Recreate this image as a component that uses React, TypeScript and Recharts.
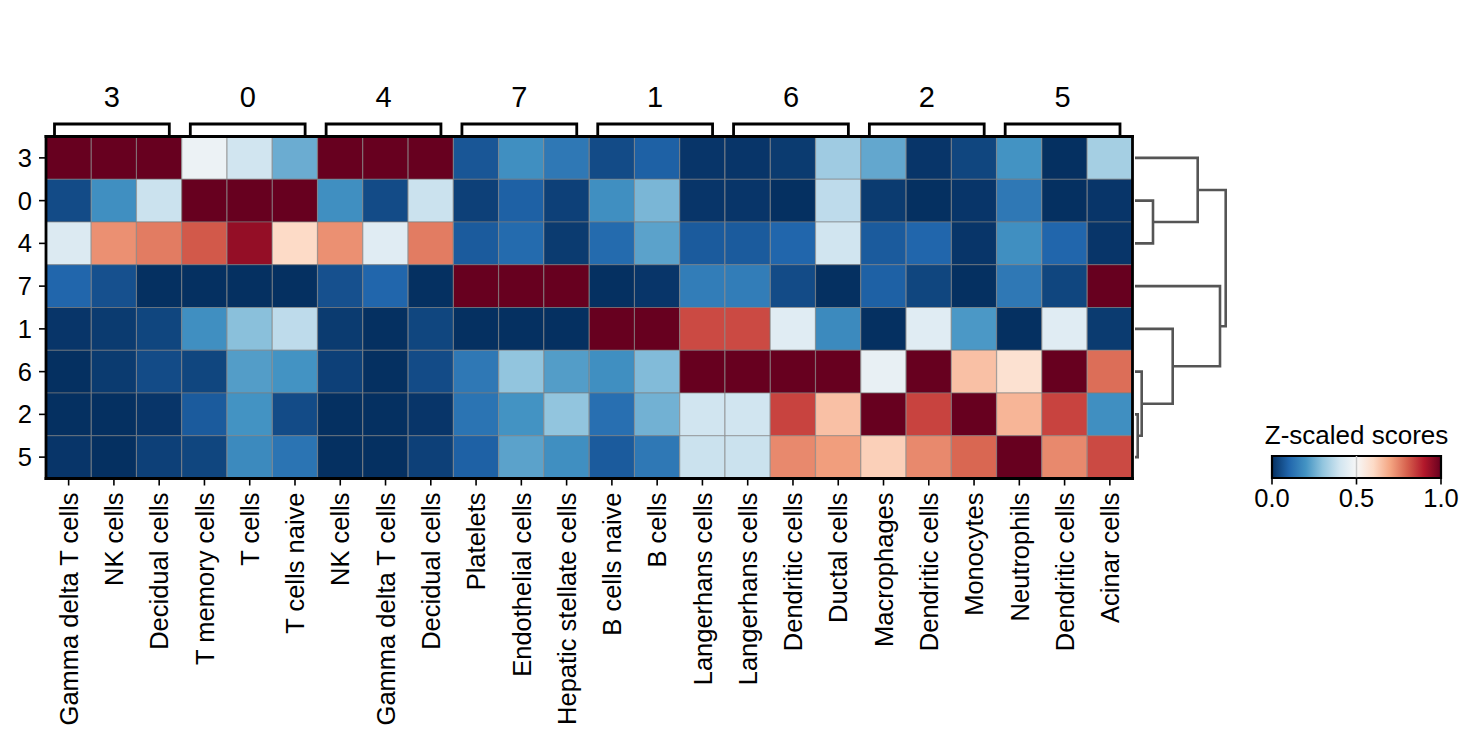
import React from "react"
import {
    Bar,
    BarChart,
    Cell,
    ReferenceLine,
    Scatter,
    ScatterChart,
    XAxis,
    YAxis,
} from "recharts"

const W = 1475
const H = 746
const FONT = '"Liberation Sans", Arial, Helvetica, sans-serif'
const TICK_FONT = 25.5

// cluster order of the rows (and of the column groups)
const rowLabels = ["3", "0", "4", "7", "1", "6", "2", "5"]

const cellTypes = [
    "Gamma delta T cells", "NK cells", "Decidual cells",
    "T memory cells", "T cells", "T cells naive",
    "NK cells", "Gamma delta T cells", "Decidual cells",
    "Platelets", "Endothelial cells", "Hepatic stellate cells",
    "B cells naive", "B cells", "Langerhans cells",
    "Langerhans cells", "Dendritic cells", "Ductal cells",
    "Macrophages", "Dendritic cells", "Monocytes",
    "Neutrophils", "Dendritic cells", "Acinar cells",
]

const groupLabels = ["3", "0", "4", "7", "1", "6", "2", "5"]
const groupSize = 3

// z-scaled scores, one array per cluster row
const scores3 = [1, 1, 1, 0.47, 0.4, 0.25, 1, 1, 1, 0.07, 0.19, 0.14, 0.05, 0.09, 0.01, 0.01, 0.02, 0.32, 0.24, 0.01, 0.04, 0.2, 0, 0.33]
const scores0 = [0.05, 0.19, 0.39, 1, 1, 1, 0.19, 0.05, 0.39, 0.03, 0.09, 0.03, 0.19, 0.27, 0.01, 0.01, 0, 0.37, 0.02, 0, 0.01, 0.14, 0, 0.01]
const scores4 = [0.43, 0.73, 0.76, 0.81, 0.94, 0.6, 0.73, 0.44, 0.76, 0.08, 0.11, 0.02, 0.11, 0.23, 0.08, 0.08, 0.1, 0.4, 0.08, 0.1, 0.01, 0.19, 0.1, 0.01]
const scores7 = [0.1, 0.06, 0, 0, 0, 0, 0.06, 0.1, 0, 1, 1, 1, 0, 0.01, 0.15, 0.15, 0.05, 0, 0.09, 0.04, 0, 0.14, 0.04, 1]
const scores1 = [0.01, 0.02, 0.04, 0.19, 0.29, 0.37, 0.02, 0, 0.04, 0, 0, 0, 1, 1, 0.83, 0.83, 0.44, 0.18, 0, 0.44, 0.21, 0, 0.44, 0.02]
const scores6 = [0, 0.02, 0.05, 0.04, 0.22, 0.2, 0.03, 0, 0.05, 0.14, 0.3, 0.22, 0.19, 0.28, 1, 1, 1, 1, 0.46, 1, 0.65, 0.58, 1, 0.78]
const scores2 = [0, 0, 0.01, 0.08, 0.2, 0.05, 0, 0, 0.01, 0.13, 0.2, 0.3, 0.12, 0.26, 0.4, 0.4, 0.84, 0.65, 1, 0.84, 1, 0.67, 0.84, 0.19]
const scores5 = [0.01, 0, 0.03, 0.04, 0.18, 0.13, 0, 0, 0.03, 0.09, 0.23, 0.19, 0.08, 0.14, 0.39, 0.39, 0.74, 0.71, 0.62, 0.74, 0.79, 1, 0.74, 0.83]

const scoreRows = [scores3, scores0, scores4, scores7, scores1, scores6, scores2, scores5]

// hierarchical clustering of the rows: children are leaf positions (0-7)
// or earlier merges (8+), heights in linkage distance units
const linkLeft = [1, 0, 6, 5, 4, 3, 9]
const linkRight = [2, 8, 7, 10, 11, 12, 13]
const linkHeight = [0.18, 0.627, 0.027, 0.067, 0.377, 0.85, 0.907]

const colorbarTicks = [0, 0.5, 1]

// RdBu_r stops
const RDBU_R = [
    "#053061", "#2166ac", "#4393c3", "#92c5de", "#d1e5f0", "#f7f7f7",
    "#fddbc7", "#f4a582", "#d6604d", "#b2182b", "#67001f",
]

function hexRgb(h: string) {
    return [1, 3, 5].map(i => parseInt(h.slice(i, i + 2), 16))
}

function rdbu(v: number) {
    const t = Math.max(0, Math.min(1, v)) * (RDBU_R.length - 1)
    const i = Math.min(Math.floor(t), RDBU_R.length - 2)
    const f = t - i
    const a = hexRgb(RDBU_R[i])
    const b = hexRgb(RDBU_R[i + 1])
    const c = a.map((x, k) => Math.round(x + (b[k] - x) * f))
    return `rgb(${c[0]},${c[1]},${c[2]})`
}

// heatmap frame in page pixels
const HM = { left: 46, right: 1132.5, top: 136.5, bottom: 478.5 }
const cellW = (HM.right - HM.left) / cellTypes.length

const frameLine = { stroke: "#000", strokeWidth: 2.8, strokeLinecap: "square" as const }

const tableRows = cellTypes.map((name, i) => {
    const row: Record<string, number | string> = { idx: i, name }
    rowLabels.forEach((_, r) => { row[`r${r}`] = 1 })
    return row
})

function CellTick(props: any) {
    const { x, y, payload } = props
    return (
        <g transform={`translate(${x},${y})`}>
            <text
                transform="rotate(-90)"
                x={-5}
                y={0}
                dy="0.36em"
                textAnchor="end"
                fontSize={TICK_FONT}
                fontFamily={FONT}
                fill="#000"
            >
                {cellTypes[payload.value]}
            </text>
        </g>
    )
}

function GroupTick(props: any) {
    const { x, payload } = props
    const i = payload.value as number
    if (i % groupSize !== 1) return <g />
    const g = Math.floor(i / groupSize)
    const x0 = x - cellW * 1.5 + 8.5
    const x1 = x + cellW * 1.5 - 12.5
    const top = HM.top - 12.5
    return (
        <g>
            <path
                d={`M${x0},${HM.top} L${x0},${top} L${x1},${top} L${x1},${HM.top}`}
                fill="none"
                stroke="#000"
                strokeWidth={2.8}
            />
            <text
                x={(x0 + x1) / 2}
                y={top - 27}
                textAnchor="middle"
                dy="0.36em"
                fontSize={29}
                fontFamily={FONT}
                fill="#000"
            >
                {groupLabels[g]}
            </text>
        </g>
    )
}

function Heatmap() {
    return (
        <BarChart
            width={W}
            height={H}
            data={tableRows}
            barCategoryGap={0}
            barGap={0}
            margin={{ left: 0, right: W - HM.right, top: HM.top - 40, bottom: H - HM.bottom - 260 }}
        >
            <XAxis
                dataKey="idx"
                type="category"
                interval={0}
                height={260}
                axisLine={frameLine}
                tickSize={7}
                tickLine={{ stroke: "#000", strokeWidth: 1.6 }}
                tick={<CellTick />}
            />
            <XAxis
                xAxisId="top"
                dataKey="idx"
                type="category"
                orientation="top"
                interval={0}
                height={40}
                axisLine={frameLine}
                tickLine={false}
                tick={<GroupTick />}
            />
            <YAxis
                type="number"
                domain={[0, rowLabels.length]}
                ticks={rowLabels.map((_, i) => i + 0.5)}
                interval={0}
                reversed
                width={HM.left}
                axisLine={frameLine}
                tickSize={7}
                tickMargin={7}
                tickLine={{ stroke: "#000", strokeWidth: 1.6 }}
                tick={{ fill: "#000", fontSize: TICK_FONT, fontFamily: FONT }}
                tickFormatter={(v: number) => rowLabels[Math.floor(v)]}
            />
            {rowLabels.map((label, r) => (
                <Bar key={label} dataKey={`r${r}`} stackId="hm" isAnimationActive={false}>
                    {cellTypes.map((_, c) => (
                        <Cell
                            key={c}
                            fill={rdbu(scoreRows[r][c])}
                            stroke="#7d7d7d"
                            strokeWidth={0.6}
                        />
                    ))}
                </Bar>
            ))}
            {/* right edge of the frame, at the far side of the last column */}
            <ReferenceLine
                x={cellTypes.length - 1}
                position="end"
                stroke="#000"
                strokeWidth={2.8}
                strokeLinecap="square"
                ifOverflow="visible"
            />
        </BarChart>
    )
}

function dendrogramLinks() {
    const ys: number[] = rowLabels.map((_, i) => i + 0.5)
    const hs: number[] = rowLabels.map(() => 0)
    const links = linkHeight.map((h, k) => {
        const a = linkLeft[k]
        const b = linkRight[k]
        const pts = [
            { d: hs[a], y: ys[a] },
            { d: h, y: ys[a] },
            { d: h, y: ys[b] },
            { d: hs[b], y: ys[b] },
        ]
        ys.push((ys[a] + ys[b]) / 2)
        hs.push(h)
        return pts
    })
    return links
}

function Dendrogram() {
    const links = dendrogramLinks()
    return (
        <ScatterChart
            width={W}
            height={H}
            margin={{ left: 1135, right: W - 1235, top: HM.top, bottom: H - HM.bottom }}
        >
            <XAxis type="number" dataKey="d" domain={[0, 1]} hide />
            <YAxis type="number" dataKey="y" domain={[0, rowLabels.length]} reversed hide />
            {links.map((pts, k) => (
                <Scatter
                    key={k}
                    data={pts}
                    line={{ stroke: "#555555", strokeWidth: 2.6 }}
                    lineType="joint"
                    shape={() => <g />}
                    isAnimationActive={false}
                />
            ))}
        </ScatterChart>
    )
}

const CB = { left: 1272, right: 1441, top: 456, bottom: 477.5 }

function Colorbar() {
    return (
        <BarChart
            width={W}
            height={H}
            layout="vertical"
            data={[{ name: "score", v: 1 }]}
            barCategoryGap={0}
            margin={{ left: CB.left, right: W - CB.right, top: CB.top, bottom: H - CB.bottom - 40 }}
        >
            <defs>
                <linearGradient id="rdbuGrad" x1="0" y1="0" x2="1" y2="0">
                    {RDBU_R.map((c, i) => (
                        <stop key={i} offset={i / (RDBU_R.length - 1)} stopColor={c} />
                    ))}
                </linearGradient>
            </defs>
            <XAxis
                type="number"
                domain={[0, 1]}
                ticks={colorbarTicks}
                interval={0}
                height={40}
                axisLine={false}
                tickSize={7}
                tickMargin={4}
                tickLine={{ stroke: "#000", strokeWidth: 1.6 }}
                tick={{ fill: "#000", fontSize: TICK_FONT, fontFamily: FONT }}
                tickFormatter={(v: number) => v.toFixed(1)}
            />
            <YAxis type="category" dataKey="name" hide />
            <Bar dataKey="v" fill="url(#rdbuGrad)" stroke="#000" strokeWidth={2.2} isAnimationActive={false} />
            <ReferenceLine x={0.5} stroke="#c8c8c8" strokeWidth={1.5} />
        </BarChart>
    )
}

const layer: React.CSSProperties = { position: "absolute", left: 0, top: 0 }

export default function App() {
    return (
        <div style={{ position: "absolute", left: 0, top: 0, width: W, height: H, background: "#fff" }}>
            <div style={layer}><Heatmap /></div>
            <div style={layer}><Dendrogram /></div>
            <div style={layer}><Colorbar /></div>
            <div
                style={{
                    position: "absolute",
                    left: (CB.left + CB.right) / 2 - 130,
                    width: 260,
                    top: 420,
                    textAlign: "center",
                    fontFamily: FONT,
                    fontSize: 26,
                    lineHeight: "30px",
                    color: "#000",
                }}
            >
                Z-scaled scores
            </div>
        </div>
    )
}
